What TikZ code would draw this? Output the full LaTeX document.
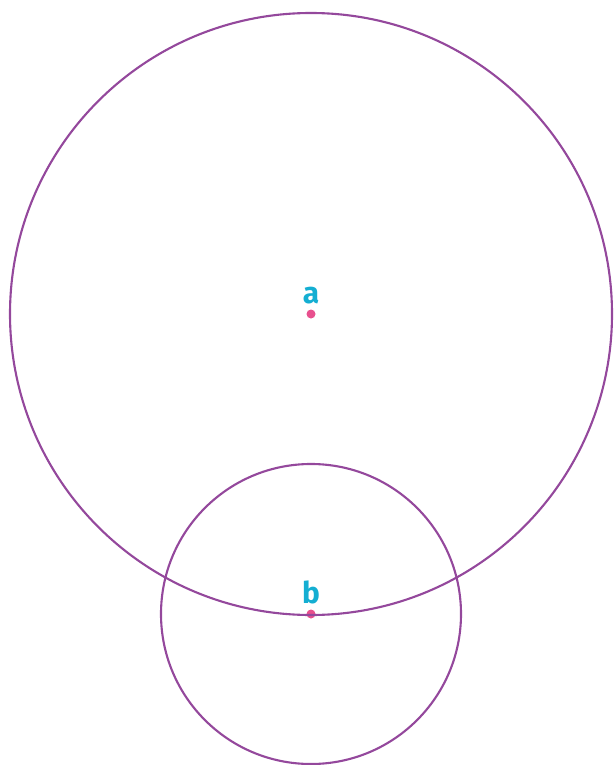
\documentclass[tikz,border=0pt]{standalone}
\usepackage{fontspec}
\setsansfont{Fira Sans}
\usetikzlibrary{positioning}
\definecolor{cpurple}{HTML}{94489C}
\definecolor{ccyan}{HTML}{14AED2}
\definecolor{cpink}{HTML}{E8508E}
\tikzset{
  every picture/.style={font=\sffamily, line width=1.1pt},
  ring/.style={draw=cpurple, line width=1.2pt},
  dot/.style={circle, fill=cpink, inner sep=0pt, minimum size=0.18cm},
  lbl/.style={text=ccyan, font=\sffamily\fontsize{17}{20}\selectfont\bfseries, inner sep=1pt},
}
\begin{document}
\begin{tikzpicture}
  \useasboundingbox (0,0) rectangle (12.26,-15.3);
  % centres
  \node[dot] (a) at (6.22,-6.28) {};
  \node[dot] (b) at (6.22,-12.28) {};
  \node[lbl, above=0.03cm of a] (la) {a};
  \node[lbl, above=0.03cm of b] (lb) {b};
  % circles
  \draw[ring] (a) circle (6.02);
  \draw[ring] (b) circle (3.0);
\end{tikzpicture}
\end{document}
